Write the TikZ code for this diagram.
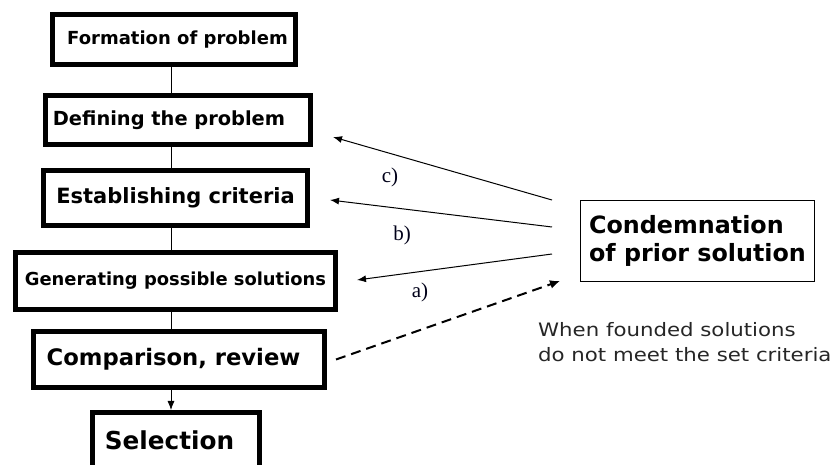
\documentclass[tikz,border=0pt]{standalone}
\usepackage{fontspec}
\setmainfont{DejaVu Sans}
\newfontfamily\labfont{Liberation Serif}
\newfontfamily\notefont[FakeStretch=1.15]{DejaVu Sans}
\usetikzlibrary{arrows.meta,calc}
\tikzset{
  stepbox/.style={draw, line width=5pt, inner sep=0pt, font=\bfseries},
  condbox/.style={draw, line width=1pt, inner sep=0pt, font=\bfseries, align=left},
  link/.style={line width=0.8pt},
  backarrow/.style={line width=1pt, -{Latex[length=9pt,width=7pt]}},
  dasharrow/.style={line width=2pt, dash pattern=on 10pt off 6pt, -{Latex[length=10pt,width=9pt]}},
  lab/.style={font=\labfont\fontsize{21}{24}\selectfont, text=black!90!blue},
  note/.style={font=\notefont\fontsize{18.5}{25}\selectfont, text=black!85, align=left, inner sep=0pt}
}
\begin{document}
\begin{tikzpicture}[x=1pt,y=-1pt]
\useasboundingbox (0,0) rectangle (839,465);
\clip (0,0) rectangle (839,465);
\fill[white] (0,0) rectangle (839,465);
\coordinate (spine) at (171,0);
\node[stepbox, minimum width=243, minimum height=50, font=\bfseries\fontsize{18}{21}\selectfont] (b1) at (174,39.5) {\hspace*{7pt}Formation of problem};
\node[stepbox, minimum width=265, minimum height=49, font=\bfseries\fontsize{19.4}{23}\selectfont] (b2) at (178,120) {\hspace*{-18pt}Defining the problem};
\node[stepbox, minimum width=264, minimum height=55, font=\bfseries\fontsize{21}{25}\selectfont] (b3) at (175.5,198) {Establishing criteria};
\node[stepbox, minimum width=320, minimum height=57, font=\bfseries\fontsize{17.9}{21}\selectfont] (b4) at (175.5,281) {Generating possible solutions};
\node[stepbox, minimum width=291, minimum height=56, font=\bfseries\fontsize{22.7}{27}\selectfont] (b5) at (179,359.5) {\hspace*{-11pt}Comparison, review};
\node[stepbox, minimum width=167, minimum height=55, font=\bfseries\fontsize{24.7}{29}\selectfont] (b6) at (176,440) {\hspace*{-13pt}Selection};
\node[condbox, minimum width=234, minimum height=81, font=\bfseries\fontsize{23.8}{28}\selectfont] (cond) at (697.5,241) {Condemnation\\of prior solution};
\node[note, anchor=base west] (note) at (538,362) {When founded solutions\\do not meet the set criteria};

\draw[link] (b1.south -| spine) -- (b2.north -| spine);
\draw[link] (b2.south -| spine) -- (b3.north -| spine);
\draw[link] (b3.south -| spine) -- (b4.north -| spine);
\draw[link] (b4.south -| spine) -- (b5.north -| spine);
\draw[link, -{Latex[length=9pt,width=7pt]}] (b5.south -| spine) -- (b6.north -| spine);

\coordinate (sc) at ($(cond.west)+(-28,-41)$);
\coordinate (sb) at ($(cond.west)+(-28,-14)$);
\coordinate (sa) at ($(cond.west)+(-28,13)$);
\coordinate (tc) at ($(b2.east)+(20,17)$);
\coordinate (tb) at ($(b3.east)+(20,2)$);
\coordinate (ta) at ($(b4.east)+(19,-1)$);
\coordinate (ds) at ($(b5.east)+(9,0)$);
\coordinate (de) at (560,281);

\draw[backarrow] (sc) -- (tc);
\draw[backarrow] (sb) -- (tb);
\draw[backarrow] (sa) -- (ta);
\draw[dasharrow] (ds) -- (de);

\node[lab] (lc) at (390,177) {c)};
\node[lab] (lb) at (402,235) {b)};
\node[lab] (la) at (420,292) {a)};
\end{tikzpicture}
\end{document}
